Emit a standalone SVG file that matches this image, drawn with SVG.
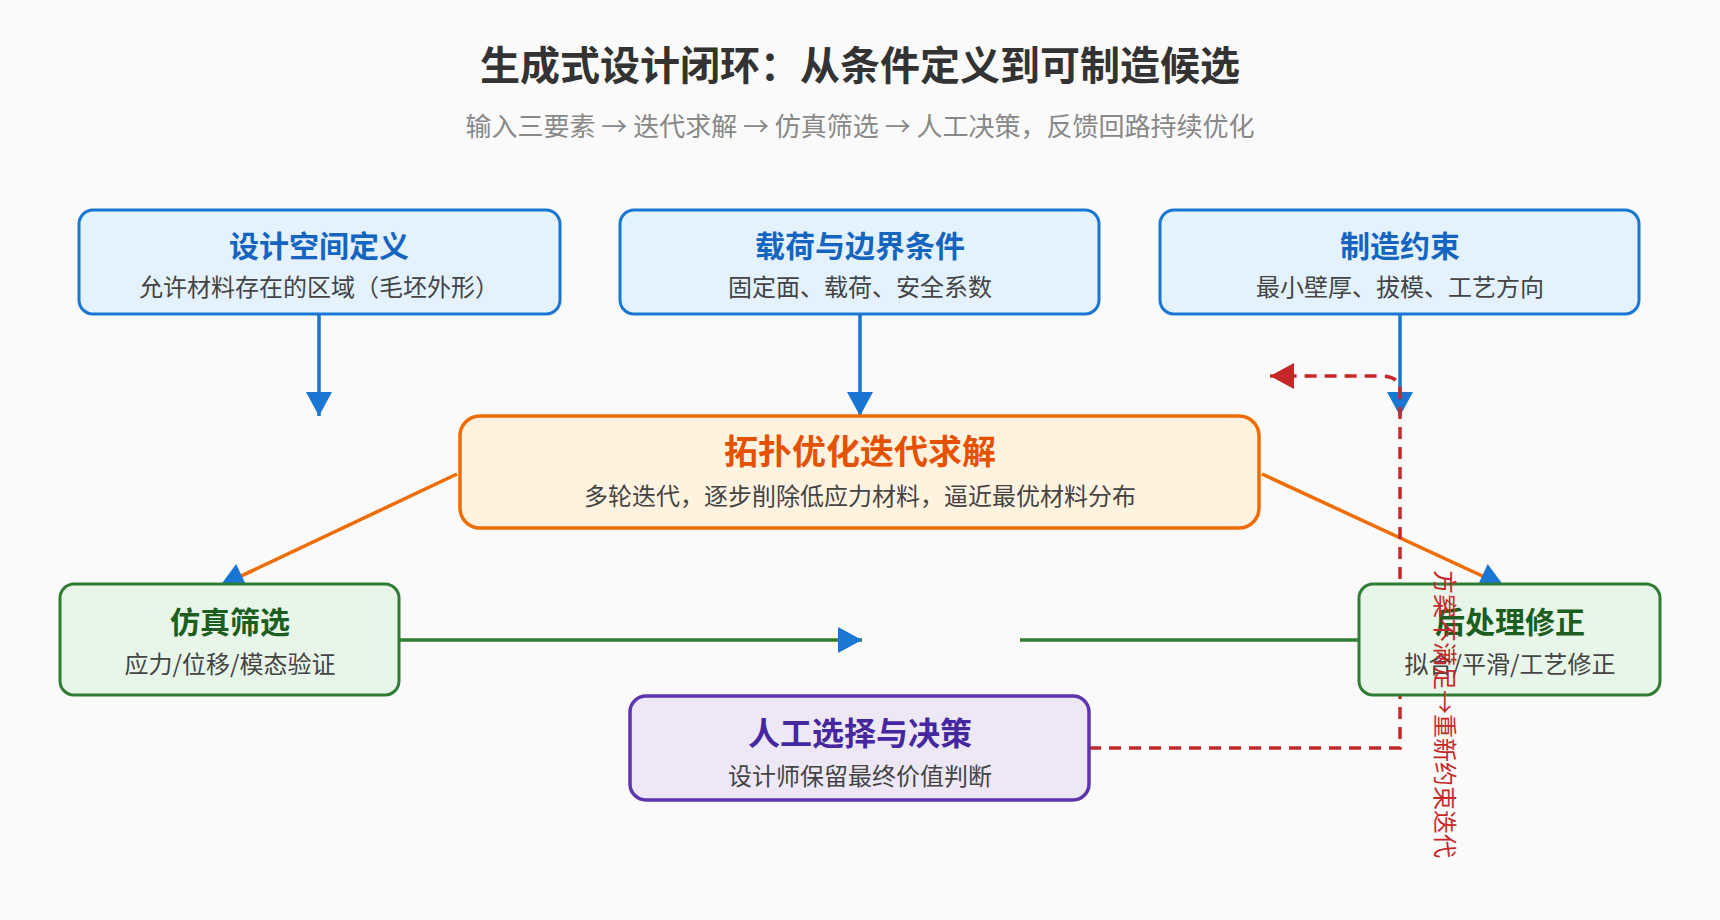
<svg xmlns="http://www.w3.org/2000/svg" width="1720" height="920" viewBox="0 0 1720 920">
<style>
text{font-family:"Noto Sans CJK SC","Noto Sans",sans-serif;text-anchor:middle}
.t{font-size:30px;font-weight:bold}
.s{font-size:24px;fill:#444}
.b rect{fill:#e3f2fd;stroke:#1976d2;stroke-width:3}
.b .t{fill:#1565c0}
.o rect{fill:#fff3e0;stroke:#ef6c00;stroke-width:3.5}
.o .t{fill:#e65100;font-size:34px}
.g rect{fill:#e8f5e9;stroke:#2e7d32;stroke-width:3}
.g .t{fill:#1b5e20}
.p rect{fill:#ede7f6;stroke:#5e35b1;stroke-width:3.5}
.p .t{fill:#4527a0;font-size:32px}
</style>
<defs>
<marker id="ab" markerUnits="userSpaceOnUse" markerWidth="30" markerHeight="30" viewBox="0 0 30 30" refX="26" refY="15" orient="auto"><path d="M2,2L26,15L2,28z" fill="#1976d2"/></marker>
<marker id="ar" markerUnits="userSpaceOnUse" markerWidth="30" markerHeight="30" viewBox="0 0 30 30" refX="26" refY="15" orient="auto"><path d="M2,2L26,15L2,28z" fill="#c62828"/></marker>
</defs>
<rect width="1720" height="920" fill="#fafafa"/>
<text x="860" y="80" style="font-size:40px;font-weight:bold;fill:#333">生成式设计闭环：从条件定义到可制造候选</text>
<text x="860" y="136" style="font-size:26px;fill:#888">输入三要素 → 迭代求解 → 仿真筛选 → 人工决策，反馈回路持续优化</text>
<g id="connectors" fill="none">
<g stroke="#1976d2" stroke-width="3.5" marker-end="url(#ab)">
<path d="M319,314V416"/><path d="M860,314V416"/><path d="M1400,314V416"/>
</g>
<g stroke="#ef6c00" stroke-width="3.5" marker-end="url(#ab)">
<path d="M457,474L220,586"/><path d="M1262,474L1504,586"/>
</g>
<path d="M399,640H862" stroke="#2e7d32" stroke-width="3.5" marker-end="url(#ab)"/>
<path d="M1020,640H1359" stroke="#2e7d32" stroke-width="3.5"/>
<path d="M1089,748H1400V390Q1400,376 1380,376H1270" stroke="#c62828" stroke-width="3.5" stroke-dasharray="12,8" marker-end="url(#ar)"/>
</g>
<g id="n1" class="b"><rect x="79" y="210" width="481" height="104" rx="14"/><text class="t" x="319" y="257">设计空间定义</text><text class="s" x="319" y="296">允许材料存在的区域（毛坯外形）</text></g>
<g id="n2" class="b"><rect x="620" y="210" width="479" height="104" rx="14"/><text class="t" x="860" y="257">载荷与边界条件</text><text class="s" x="860" y="296">固定面、载荷、安全系数</text></g>
<g id="n3" class="b"><rect x="1160" y="210" width="479" height="104" rx="14"/><text class="t" x="1400" y="257">制造约束</text><text class="s" x="1400" y="296">最小壁厚、拔模、工艺方向</text></g>
<g id="n4" class="o"><rect x="460" y="416" width="799" height="112" rx="20"/><text class="t" x="860" y="464">拓扑优化迭代求解</text><text class="s" x="860" y="505">多轮迭代，逐步削除低应力材料，逼近最优材料分布</text></g>
<g id="n5" class="g"><rect x="60" y="584" width="339" height="111" rx="14"/><text class="t" x="230" y="633">仿真筛选</text><text class="s" x="230" y="673">应力/位移/模态验证</text></g>
<g id="n6" class="g"><rect x="1359" y="584" width="301" height="111" rx="14"/><text class="t" x="1510" y="633">后处理修正</text><text class="s" x="1510" y="673">拟合/平滑/工艺修正</text></g>
<g id="n7" class="p"><rect x="630" y="696" width="459" height="104" rx="16"/><text class="t" x="860" y="745">人工选择与决策</text><text class="s" x="860" y="785">设计师保留最终价值判断</text></g>
<text transform="translate(1436,570) rotate(90)" style="text-anchor:start;font-size:24px;fill:#c62828">方案不满足→重新约束迭代</text>
</svg>
